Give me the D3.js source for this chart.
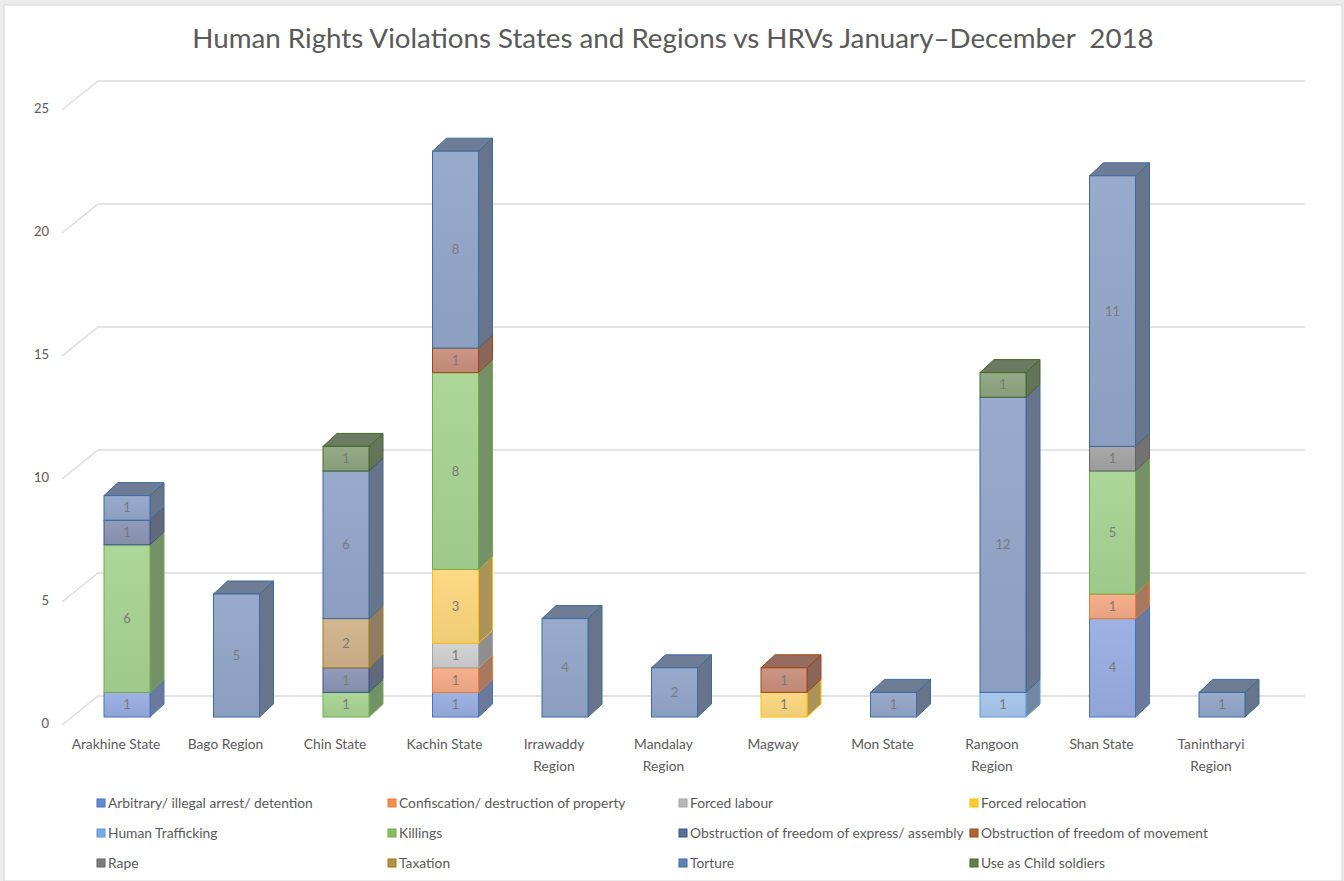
<!DOCTYPE html>
<html lang="en">
<head>
<meta charset="UTF-8">
<title>HRV chart</title>
<script src="https://cdn.jsdelivr.net/npm/d3@7"></script>
<style>
    * { margin: 0; padding: 0; }
    body { background: #fff; }
    text { font-family: Lato, "Open Sans", sans-serif; }
</style>
</head>
<body>
<div id="chart"></div>
<script>
    // categories (x axis)
    const categories = ["Arakhine State", "Bago Region", "Chin State", "Kachin State", "Irrawaddy Region",
        "Mandalay Region", "Magway", "Mon State", "Rangoon Region", "Shan State", "Tanintharyi Region"];

    const seriesNames = ["Arbitrary/ illegal arrest/ detention", "Confiscation/ destruction of property",
        "Forced labour", "Forced relocation", "Human Trafficking", "Killings",
        "Obstruction of freedom of express/ assembly", "Obstruction of freedom of movement",
        "Rape", "Taxation", "Torture", "Use as Child soldiers"];

    // values per series, same order as categories
    const arbitrary        = [1, 0, 0, 1, 0, 0, 0, 0, 0, 4, 0];
    const confiscation     = [0, 0, 0, 1, 0, 0, 0, 0, 0, 1, 0];
    const forcedLabour     = [0, 0, 0, 1, 0, 0, 0, 0, 0, 0, 0];
    const forcedRelocation = [0, 0, 0, 3, 0, 0, 1, 0, 0, 0, 0];
    const trafficking      = [0, 0, 0, 0, 0, 0, 0, 0, 1, 0, 0];
    const killings         = [6, 0, 1, 8, 0, 0, 0, 0, 0, 5, 0];
    const obstructExpress  = [1, 0, 1, 0, 0, 0, 0, 0, 0, 0, 0];
    const obstructMove     = [0, 0, 0, 1, 0, 0, 1, 0, 0, 0, 0];
    const rape             = [0, 0, 0, 0, 0, 0, 0, 0, 0, 1, 0];
    const taxation         = [0, 0, 2, 0, 0, 0, 0, 0, 0, 0, 0];
    const torture          = [1, 5, 6, 8, 4, 2, 0, 1, 12, 11, 1];
    const childSoldiers    = [0, 0, 1, 0, 0, 0, 0, 0, 1, 0, 0];

    const yTicks = [0, 5, 10, 15, 20, 25];

    const seriesValues = [arbitrary, confiscation, forcedLabour, forcedRelocation, trafficking, killings,
        obstructExpress, obstructMove, rape, taxation, torture, childSoldiers];

    // colours: edge / front face
    const baseColors = ['#4472c4', '#ed7d31', '#a5a5a5', '#ffc000', '#5b9bd5', '#70ad47',
        '#3b5587', '#9e480e', '#636363', '#a07a1a', '#3d6aa0', '#43682b'];
    const frontColors = ['#98aee2', '#f6ab86', '#d0d0d0', '#fdd77e', '#a5c6ec', '#a8d392',
        '#8b95b4', '#c98f7c', '#a3a3a3', '#d1b38a', '#93a6c9', '#8ea57f'];

    const width = 1344, height = 881;
    const depthX = 14, depthY = 13;     // bar depth
    const wallY = 29;                   // side wall of the grid
    const barW = 46;

    const svg = d3.select('#chart').append('svg')
        .attr('width', width)
        .attr('height', height);

    // frame
    svg.append('rect')
        .attr('width', width).attr('height', height).attr('fill', '#ececec');
    svg.append('rect')
        .attr('x', 4).attr('y', 5).attr('width', width - 6).attr('height', height - 5)
        .attr('fill', '#fff').attr('stroke', '#d6d6d6');

    const yScale = d3.scaleLinear().domain([0, 25]).range([696, 81]);
    const barOffset = 21;   // bars sit in front of the back wall
    const xScale = d3.scalePoint().domain(categories).range([127, 1222]);

    // grid on back wall + diagonal side wall
    const grid = svg.append('g');
    yTicks.forEach(v => {
        const y = yScale(v);
        grid.append('path')
            .attr('d', `M62 ${y + wallY} L98 ${y} L1305 ${y}`)
            .attr('fill', 'none')
            .attr('stroke', '#dcdcdc')
            .attr('stroke-width', 1.4);
    });

    grid.selectAll('.ytick')
        .data(yTicks)
        .enter()
        .append('text')
        .attr('x', 49)
        .attr('y', d => yScale(d) + wallY - 2)
        .attr('dy', '0.35em')
        .attr('text-anchor', 'end')
        .attr('font-size', 13)
        .attr('fill', '#595959')
        .text(d => d);

    // stacked data
    const table = categories.map((c, i) => {
        const row = { cat: c };
        seriesNames.forEach((s, j) => row[s] = seriesValues[j][i]);
        return row;
    });
    const stacked = d3.stack().keys(seriesNames)(table);

    const segments = [];
    stacked.forEach((layer, j) => {
        layer.forEach(d => {
            if (d[1] - d[0] > 0) segments.push({ j, cat: d.data.cat, y0: d[0], y1: d[1], v: d[1] - d[0] });
        });
    });
    // draw from bottom up so upper segments cover the top faces beneath
    segments.sort((a, b) => a.y0 - b.y0);

    const darken = (c, t) => d3.interpolateRgb(c, '#1a1a1a')(t);

    // gradients for front faces
    const defs = svg.append('defs');
    frontColors.forEach((c, j) => {
        const g = defs.append('linearGradient').attr('id', 'grad' + j)
            .attr('x1', 0).attr('x2', 0).attr('y1', 0).attr('y2', 1);
        g.append('stop').attr('offset', '0%').attr('stop-color', d3.interpolateRgb(c, '#fff')(0.06));
        g.append('stop').attr('offset', '100%').attr('stop-color', darken(c, 0.06));
    });

    const bars = svg.append('g');
    segments.forEach(s => {
        const x = xScale(s.cat) - barW / 2;
        const yt = yScale(s.y1) + barOffset;
        const yb = yScale(s.y0) + barOffset;
        const edge = baseColors[s.j];
        const g = bars.append('g');

        g.append('path')
            .attr('d', `M${x + barW} ${yt}L${x + barW + depthX} ${yt - depthY}L${x + barW + depthX} ${yb - depthY}L${x + barW} ${yb}Z`)
            .attr('fill', darken(frontColors[s.j], 0.36))
            .attr('stroke', edge).attr('stroke-width', 1);

        g.append('path')
            .attr('d', `M${x} ${yt}L${x + depthX} ${yt - depthY}L${x + barW + depthX} ${yt - depthY}L${x + barW} ${yt}Z`)
            .attr('fill', darken(frontColors[s.j], 0.3))
            .attr('stroke', edge).attr('stroke-width', 1);

        g.append('rect')
            .attr('x', x).attr('y', yt)
            .attr('width', barW).attr('height', yb - yt)
            .attr('fill', `url(#grad${s.j})`)
            .attr('stroke', edge).attr('stroke-width', 1);

        g.append('text')
            .attr('x', x + barW / 2)
            .attr('y', (yt + yb) / 2)
            .attr('dy', '0.35em')
            .attr('text-anchor', 'middle')
            .attr('font-size', 13)
            .attr('fill', '#7a7a7a')
            .text(s.v);
    });

    // category labels, wrapped when too wide
    const xLabels = svg.append('g');
    categories.forEach(c => {
        const t = xLabels.append('text')
            .attr('x', xScale(c) - 11)
            .attr('y', 749)
            .attr('text-anchor', 'middle')
            .attr('font-size', 13.8)
            .attr('fill', '#595959')
            .text(c);
        if (t.node().getComputedTextLength() > 96) {
            const words = c.split(' ');
            t.text(null);
            t.append('tspan').attr('x', xScale(c) - 11).text(words.slice(0, -1).join(' '));
            t.append('tspan').attr('x', xScale(c) - 11).attr('dy', 22).text(words[words.length - 1]);
        }
    });

    // title
    const title = svg.append('text')
        .attr('x', 673)
        .attr('y', 48)
        .attr('text-anchor', 'middle')
        .attr('font-size', 24)
        .attr('fill', '#595959')
        .attr('xml:space', 'preserve')
        .text('Human Rights Violations States and Regions vs HRVs January\u2013December  2018');
    const tw = title.node().getComputedTextLength();
    title.attr('font-size', 24 * 962 / tw);

    // legend
    const legend = svg.append('g');
    seriesNames.forEach((s, j) => {
        const col = j % 4, row = Math.floor(j / 4);
        const lx = 97 + col * 291, ly = 803 + row * 30;
        legend.append('rect')
            .attr('x', lx).attr('y', ly - 4)
            .attr('width', 8).attr('height', 8)
            .attr('fill', d3.interpolateRgb(baseColors[j], frontColors[j])(0.4))
            .attr('stroke', baseColors[j]);
        legend.append('text')
            .attr('x', lx + 11)
            .attr('y', ly)
            .attr('dy', '0.35em')
            .attr('font-size', 13.8)
            .attr('fill', '#595959')
            .text(s);
    });
</script>
</body>
</html>
